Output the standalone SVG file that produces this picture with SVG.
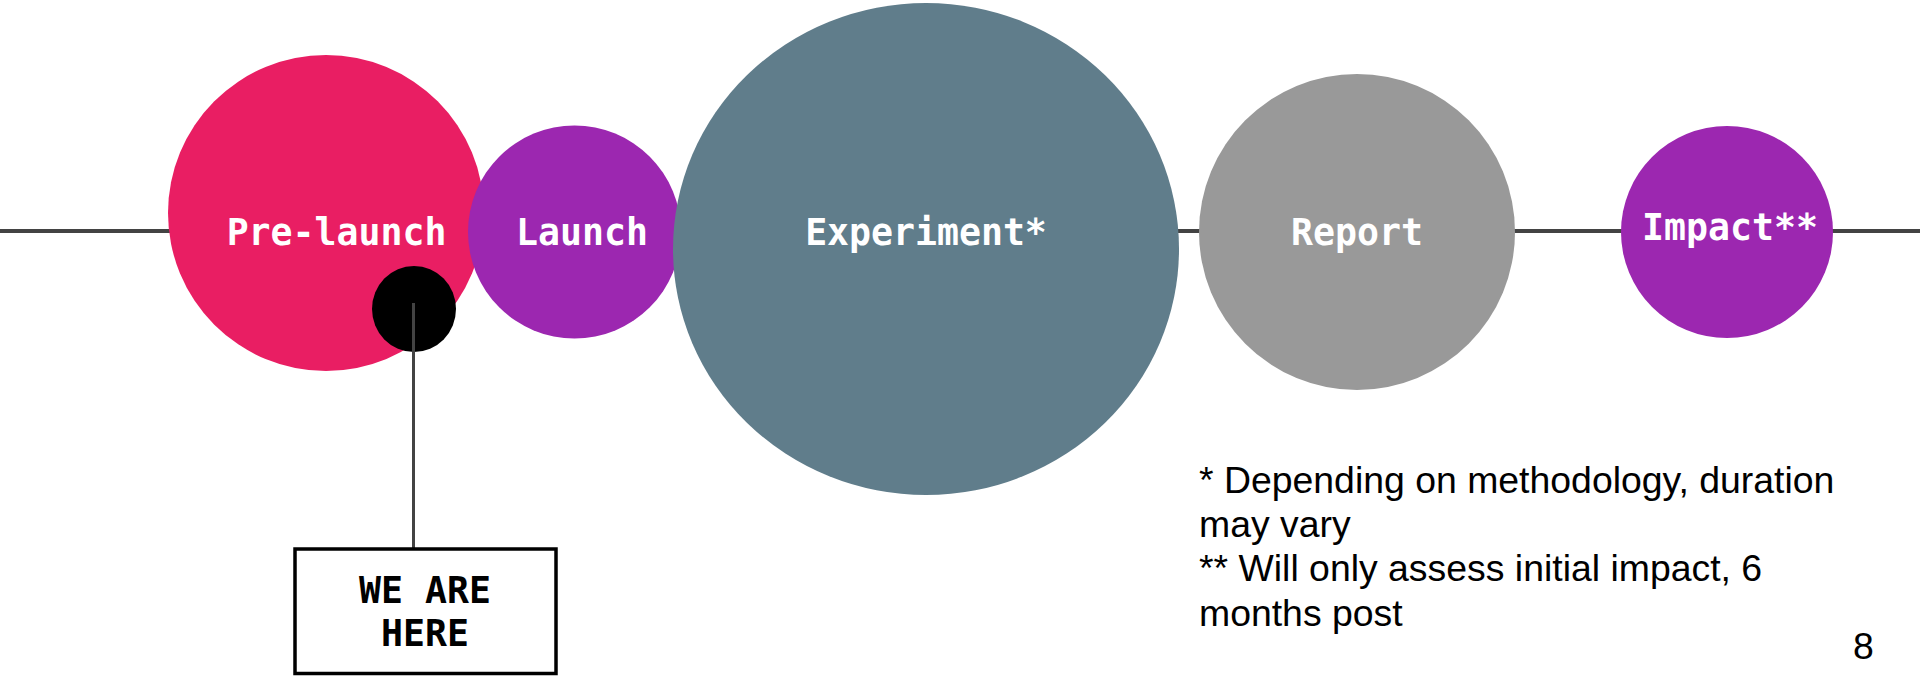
<svg xmlns="http://www.w3.org/2000/svg" width="1920" height="676" viewBox="0 0 1920 676">
  <style>
    .lbl { font-family: "DejaVu Sans Mono", "Liberation Mono", monospace; font-weight: bold; font-size: 36.5px; fill: #ffffff; text-anchor: middle; }
    .box-lbl { font-family: "DejaVu Sans Mono", "Liberation Mono", monospace; font-weight: bold; font-size: 36.5px; fill: #000000; text-anchor: middle; }
    .note { font-family: "Liberation Sans", Arial, sans-serif; font-size: 37.4px; fill: #000000; }
    .conn { stroke: #434343; fill: none; }
  </style>
  <rect x="0" y="0" width="1920" height="676" fill="#ffffff"/>
  <g id="connectors">
    <line class="conn" x1="0" y1="231" x2="1920" y2="231" stroke-width="4"/>
  </g>
  <g id="node-prelaunch">
    <circle cx="326" cy="213" r="158" fill="#E91E63"/>
    <text class="lbl" x="336.5" y="245">Pre-launch</text>
  </g>
  <g id="node-launch">
    <circle cx="574.5" cy="232" r="106.5" fill="#9C27B0"/>
    <text class="lbl" x="582" y="245">Launch</text>
  </g>
  <g id="node-experiment">
    <ellipse cx="926" cy="249" rx="253" ry="246" fill="#607D8B"/>
    <text class="lbl" x="926" y="245">Experiment*</text>
  </g>
  <g id="node-report">
    <circle cx="1357" cy="232" r="158" fill="#999999"/>
    <text class="lbl" x="1357" y="245">Report</text>
  </g>
  <g id="node-impact">
    <circle cx="1727" cy="232" r="106" fill="#9C27B0"/>
    <text class="lbl" x="1730" y="240">Impact**</text>
  </g>
  <g id="marker">
    <ellipse cx="414" cy="309" rx="42" ry="43" fill="#000000"/>
    <line class="conn" x1="413.5" y1="303" x2="413.5" y2="549" stroke-width="3"/>
  </g>
  <g id="node-we-are-here">
    <rect x="295" y="549" width="261" height="124.5" fill="#ffffff" stroke="#000000" stroke-width="3.5"/>
    <text class="box-lbl" x="425" y="603">WE ARE</text>
    <text class="box-lbl" x="425" y="646">HERE</text>
  </g>
  <g id="footnotes">
    <text class="note" x="1199" y="492.5">* Depending on methodology, duration</text>
    <text class="note" x="1199" y="537">may vary</text>
    <text class="note" x="1199" y="581">** Will only assess initial impact, 6</text>
    <text class="note" x="1199" y="626">months post</text>
  </g>
  <text class="note" x="1853" y="659" font-size="36">8</text>
</svg>
